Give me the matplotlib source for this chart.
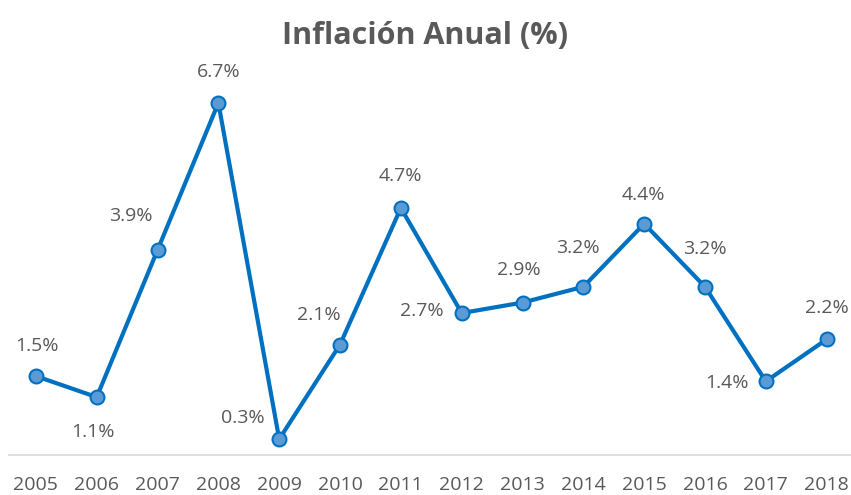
import matplotlib.pyplot as plt

# Datos de inflación anual
years = ["2005", "2006", "2007", "2008", "2009", "2010", "2011",
         "2012", "2013", "2014", "2015", "2016", "2017", "2018"]
inflation = [1.5, 1.1, 3.9, 6.7, 0.3, 2.1, 4.7, 2.7, 2.9, 3.2, 4.4, 3.2, 1.4, 2.2]

# desplazamiento de cada etiqueta en pixeles (x, y)
label_offsets = [(1, 30), (-4, -35), (-27, 34), (0, 31), (-36, 21), (-21, 30), (0, 32),
                 (-40, 2), (-4, 33), (-5, 39), (-1, 29), (0, 38), (-39, -2), (0, 31)]

plt.rcParams['font.family'] = ['Open Sans', 'DejaVu Sans']
text_color = "#595959"

fig = plt.figure(figsize=(8.51, 4.95), dpi=100)
ax = fig.add_axes([0.01, 0.081, 0.99, 0.796])

x = list(range(len(years)))
ax.plot(x, inflation, color="#0070C0", linewidth=3, marker="o", markersize=10,
        markerfacecolor="#5B9BD5", markeredgecolor="#0070C0", markeredgewidth=1.5,
        solid_joinstyle="round", clip_on=False, zorder=3)

for xi, val, (dx, dy) in zip(x, inflation, label_offsets):
    ax.annotate(f"{val}%", (xi, val), xytext=(dx, dy), textcoords="offset pixels",
                ha="center", va="center", fontsize=14, color=text_color)

ax.set_xlim(-0.45, 13.4)
ax.set_ylim(0, 7.5)
ax.set_xticks(x)
ax.set_xticklabels(years, fontsize=14, color=text_color)
ax.tick_params(axis="x", length=0, pad=15)
ax.set_yticks([])

for side in ["top", "right", "left"]:
    ax.spines[side].set_visible(False)
ax.spines["bottom"].set_color("#D9D9D9")
ax.spines["bottom"].set_linewidth(1.2)

fig.suptitle("Inflación Anual (%)", fontsize=22, fontweight="bold", color=text_color, y=0.958)

fig.savefig("out.png", dpi=100)
